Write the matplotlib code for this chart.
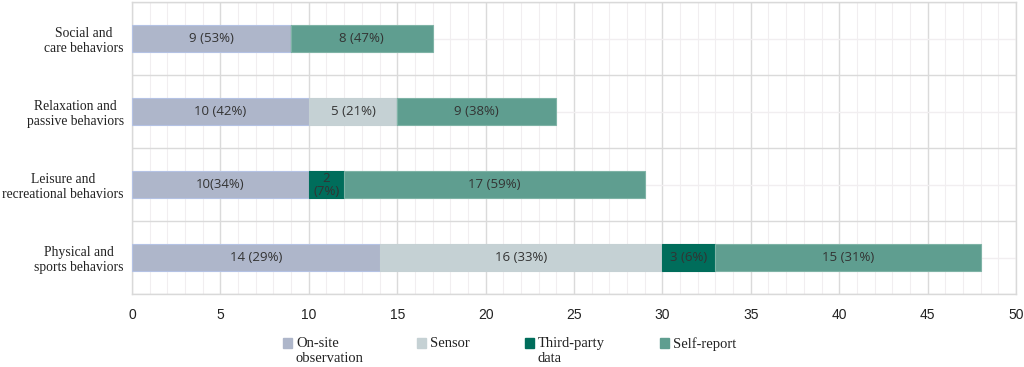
import numpy as np
import matplotlib.pyplot as plt
from matplotlib.patches import Rectangle

categories = ["Social and\ncare behaviors", "Relaxation and\npassive behaviors",
              "Leisure and\nrecreational behaviors", "Physical and\nsports behaviors"]
series = ["On-site\nobservation", "Sensor", "Third-party\ndata", "Self-report"]
onsite = [9, 10, 10, 14]
sensor = [0, 5, 0, 16]
third = [0, 0, 2, 3]
selfrep = [8, 9, 17, 15]
labels = [
    ["9 (53%)", "", "", "8 (47%)"],
    ["10 (42%)", "5 (21%)", "", "9 (38%)"],
    ["10(34%)", "", "2\n(7%)", "17 (59%)"],
    ["14 (29%)", "16 (33%)", "3 (6%)", "15 (31%)"],
]
colors = ["#AEB6CA", "#C5D1D4", "#006D5B", "#5F9E90"]
edges = ["#B4C2E4", "#C5D1D4", "#006D5B", "#7FB3A6"]

fig = plt.figure(figsize=(10.24, 3.67), dpi=100)
ax = fig.add_axes([132 / 1024, 73 / 367, 884 / 1024, 292 / 367])

y = np.arange(len(categories))
vals = np.array([onsite, sensor, third, selfrep], dtype=float)
left = np.zeros(len(categories))
for i in range(len(series)):
    bars = ax.barh(y, vals[i], left=left, height=0.38, color=colors[i],
                   edgecolor=edges[i], linewidth=0.8, zorder=3)
    for j, b in enumerate(bars):
        if vals[i][j] > 0:
            ax.text(left[j] + vals[i][j] / 2, y[j], labels[j][i], ha="center", va="center",
                    fontsize=9.5, color="#333333", family="Open Sans", zorder=4,
                    linespacing=1.0)
    left += vals[i]

ax.set_xlim(0, 50)
ax.set_ylim(len(categories) - 0.5, -0.5)
ax.set_xticks(np.arange(0, 51, 5))
ax.set_xticks(np.arange(0, 51, 1), minor=True)
ax.set_yticks(y)
ax.set_yticklabels(categories, family="Liberation Serif", fontsize=9.8, color="#222222",
                   multialignment="center", linespacing=1.2)
ax.set_yticks(np.arange(-0.5, len(categories), 1), minor=True)
ax.tick_params(axis="x", labelsize=10, colors="#222222", length=0, pad=10)
ax.tick_params(axis="y", length=0, pad=6)
ax.tick_params(which="minor", length=0)
for lab in ax.get_xticklabels():
    lab.set_family("Liberation Sans")

# grid: major verticals every 5, minor every 1; horizontal at category boundaries and centers
ax.grid(which="major", axis="x", color="#DADADA", linewidth=1.0, zorder=0)
ax.grid(which="minor", axis="x", color="#F1EEF0", linewidth=0.8, zorder=0)
ax.grid(which="minor", axis="y", color="#DADADA", linewidth=1.0, zorder=0)
ax.grid(which="major", axis="y", color="#F1EEF0", linewidth=1.0, zorder=0)
ax.set_axisbelow(True)
for s in ax.spines.values():
    s.set_color("#D9D9D9")
    s.set_linewidth(1.0)

# legend drawn manually so the marker sits on the first text line
leg_x = [283, 417, 525, 660]
for i, name in enumerate(series):
    x0 = leg_x[i] / 1024
    fig.add_artist(Rectangle((x0, (367 - 348) / 367), 9 / 1024, 10 / 367,
                             transform=fig.transFigure, color=colors[i]))
    fig.text(x0 + 13 / 1024, (367 - 337) / 367, name, ha="left", va="top",
             family="Liberation Serif", fontsize=10.5, color="#222222", linespacing=1.15)

fig.savefig("out.png", dpi=100)
